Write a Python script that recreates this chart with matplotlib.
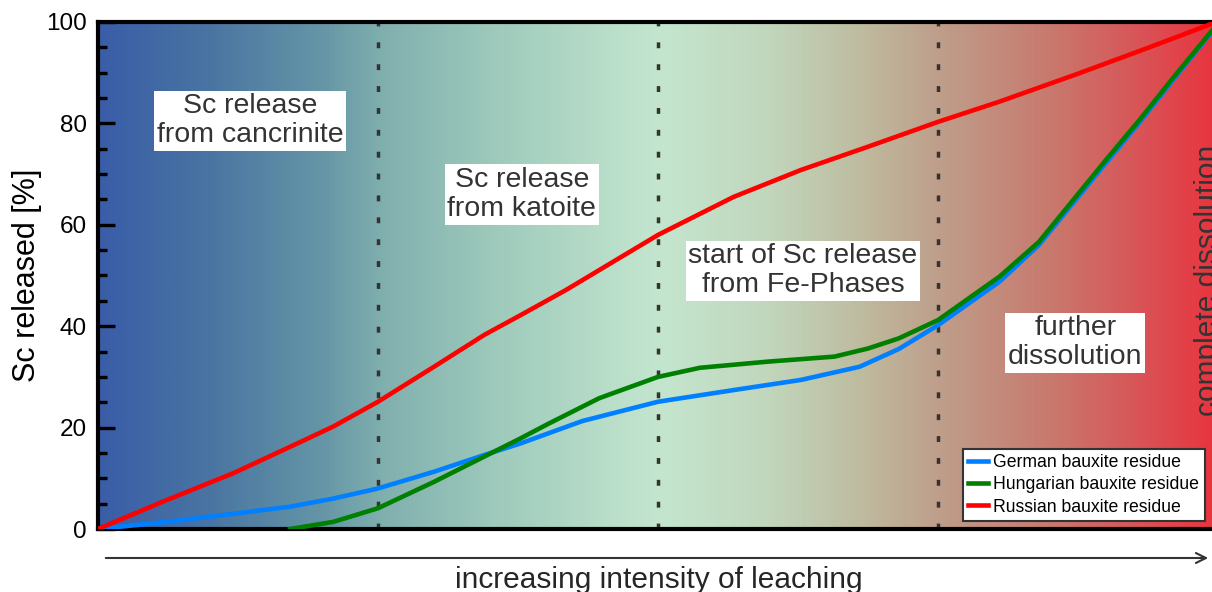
import matplotlib
matplotlib.use("Agg")
import matplotlib.pyplot as plt
import numpy as np
from matplotlib.colors import LinearSegmentedColormap
from matplotlib.patches import FancyArrowPatch

plt.rcParams["font.family"] = ["Liberation Sans", "DejaVu Sans"]

# leaching intensity (arbitrary units, 0..4) and Sc released [%]
german_x = [0, 0.245, 0.483, 0.686, 0.84, 1.0, 1.2, 1.38, 1.51, 1.73, 2.0, 2.27, 2.51, 2.72,
            2.86, 3.0, 3.22, 3.36, 3.6, 3.72, 3.84, 3.98]
german_y = [0, 1.4, 3.0, 4.4, 6.0, 8.0, 11.3, 14.6, 16.9, 21.3, 25.1, 27.4, 29.4, 32.0,
            35.5, 40.2, 48.8, 56.0, 72.2, 80.2, 88.6, 98.2]

hungarian_x = [0.686, 0.84, 1.0, 1.2, 1.38, 1.51, 1.61, 1.79, 2.0, 2.15, 2.39, 2.63, 2.75, 2.86,
               3.0, 3.22, 3.36, 3.6, 3.72, 3.84, 3.98]
hungarian_y = [0, 1.4, 4.1, 9.3, 14.3, 17.9, 20.8, 25.8, 30.0, 31.8, 33.0, 34.0, 35.6, 37.6,
               41.2, 49.8, 56.6, 72.8, 80.7, 89.0, 98.4]

russian_x = [0, 0.245, 0.483, 0.674, 0.84, 1.0, 1.2, 1.38, 1.51, 1.67, 2.0, 2.27, 2.51, 2.75,
             3.0, 3.22, 3.5, 3.75, 3.98]
russian_y = [0, 5.7, 11.0, 15.9, 20.2, 25.1, 32.0, 38.3, 42.2, 47.1, 58.0, 65.5, 70.8, 75.4,
             80.3, 84.3, 89.8, 94.9, 99.7]

series_names = ["German bauxite residue", "Hungarian bauxite residue", "Russian bauxite residue"]
series_colors = ["#0080FF", "#008000", "#FF0000"]

boundaries = [1, 2, 3]

region_labels = ["Sc release\nfrom cancrinite", "Sc release\nfrom katoite",
                 "start of Sc release\nfrom Fe-Phases", "further\ndissolution"]
region_pos = [(0.543, 80.5), (1.514, 66.0), (2.518, 50.9), (3.49, 36.7)]

# background gradient
grad_stops = [(0.0, "#3A5DA8"), (0.1, "#4A75A2"), (0.2, "#6596A6"), (0.25, "#7FAEAE"),
              (0.35, "#9DC9BB"), (0.5, "#C4E6CF"), (0.6, "#C1D6BC"), (0.68, "#BEBCA0"),
              (0.75, "#BE9F8B"), (0.85, "#C87A6E"), (0.92, "#D6595A"), (1.0, "#E8343F")]
cmap = LinearSegmentedColormap.from_list("leach", grad_stops)

fig = plt.figure(figsize=(12.12, 5.92), dpi=100)
ax = fig.add_axes([98 / 1212, 63 / 592, 1120 / 1212, 507 / 592])

ax.imshow(np.linspace(0, 1, 512).reshape(1, -1), cmap=cmap, aspect="auto",
          extent=[0, 4, 0, 100], zorder=0)

for xb in boundaries:
    ax.axvline(xb, color="#333333", lw=2.5, linestyle=(0, (1.7, 4.6)), zorder=1)

ax.plot(german_x, german_y, color=series_colors[0], lw=3.3, label=series_names[0], zorder=3,
        solid_joinstyle="round")
ax.plot(hungarian_x, hungarian_y, color=series_colors[1], lw=3.3, label=series_names[1], zorder=4,
        solid_joinstyle="round")
ax.plot(russian_x, russian_y, color=series_colors[2], lw=3.3, label=series_names[2], zorder=5,
        solid_joinstyle="round")

for txt, (tx, ty) in zip(region_labels, region_pos):
    ax.text(tx, ty, txt, ha="center", va="center", fontsize=20.5, color="#333333",
            linespacing=1.15, zorder=6,
            bbox=dict(boxstyle="square,pad=0.1", fc="white", ec="none"))

ax.text(3.915, 49, "complete dissolution", rotation=90, ha="left", va="center",
        fontsize=21.5, color="#333333", zorder=6, clip_on=False)

ax.set_xlim(0, 4)
ax.set_ylim(0, 100)
ax.set_xticks([])
ax.set_yticks([0, 20, 40, 60, 80, 100])
ax.set_yticks(np.arange(0, 101, 5), minor=True)
ax.tick_params(axis="y", which="major", direction="in", length=12, width=2.4, labelsize=17.5, pad=8)
ax.tick_params(axis="y", which="minor", direction="in", length=6.5, width=2.4)
ax.set_ylabel("Sc released [%]", fontsize=22, labelpad=3)

for side in ["left", "bottom", "top"]:
    ax.spines[side].set_linewidth(3)
    ax.spines[side].set_color("black")
ax.spines["right"].set_visible(False)

leg = ax.legend(loc="lower right", bbox_to_anchor=(0.988, 0.016), borderaxespad=0,
                fontsize=12.7, frameon=True, fancybox=False, handlelength=1.15,
                handletextpad=0.3, labelspacing=0.3, borderpad=0.3)
leg.get_frame().set_edgecolor("#333333")
leg.get_frame().set_linewidth(1.5)
leg.get_frame().set_alpha(1)
leg.set_zorder(7)

# arrow below the axis
fig.add_artist(FancyArrowPatch(
    (103 / 1212, 34 / 592), (1211 / 1212, 34 / 592), transform=fig.transFigure,
    arrowstyle="->", mutation_scale=18, color="#333333", lw=1.5))
fig.text(659 / 1212, 4 / 592, "increasing intensity of leaching", ha="center", va="baseline",
         fontsize=21.5, color="#262626")

fig.savefig("out.png", dpi=100)
